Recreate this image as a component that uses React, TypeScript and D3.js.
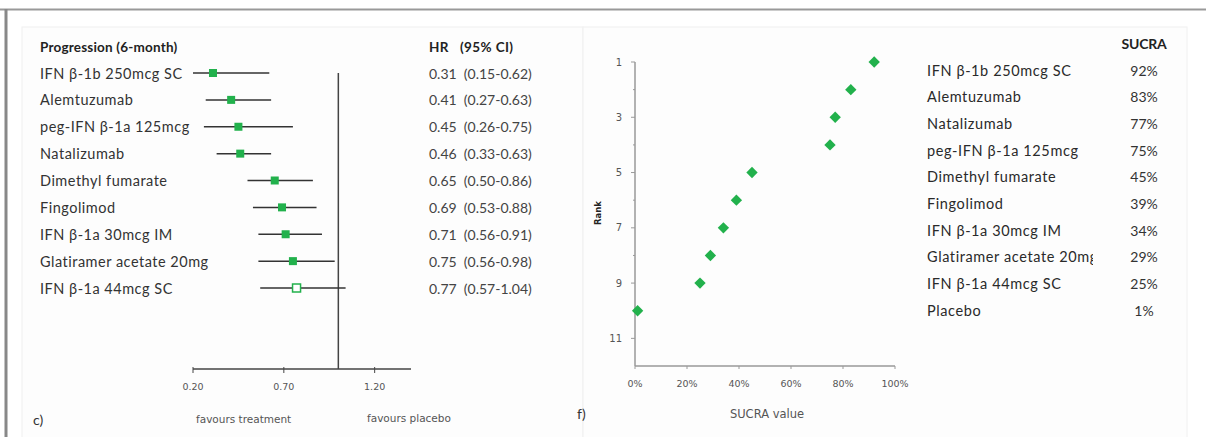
import React from "react";
import * as d3 from "d3";

// forest plot (panel c)
const forestLabels = [
  "IFN β-1b 250mcg SC",
  "Alemtuzumab",
  "peg-IFN β-1a 125mcg",
  "Natalizumab",
  "Dimethyl fumarate",
  "Fingolimod",
  "IFN β-1a 30mcg IM",
  "Glatiramer acetate 20mg",
  "IFN β-1a 44mcg SC",
];
const hr = [0.31, 0.41, 0.45, 0.46, 0.65, 0.69, 0.71, 0.75, 0.77];
const ciLow = [0.15, 0.27, 0.26, 0.33, 0.5, 0.53, 0.56, 0.56, 0.57];
const ciHigh = [0.62, 0.63, 0.75, 0.63, 0.86, 0.88, 0.91, 0.98, 1.04];
const forestTicks = [0.2, 0.7, 1.2];

// SUCRA ranking (panel f)
const sucraNames = [
  "IFN β-1b 250mcg SC",
  "Alemtuzumab",
  "Natalizumab",
  "peg-IFN β-1a 125mcg",
  "Dimethyl fumarate",
  "Fingolimod",
  "IFN β-1a 30mcg IM",
  "Glatiramer acetate 20mg",
  "IFN β-1a 44mcg SC",
  "Placebo",
];
const sucraValues = [0.92, 0.83, 0.77, 0.75, 0.45, 0.39, 0.34, 0.29, 0.25, 0.01];
const rankTicks = [1, 3, 5, 7, 9, 11];
const sucraTicks = [0, 0.2, 0.4, 0.6, 0.8, 1];

const green = "#22b14c";
const labelFont = "Lato, 'Open Sans', sans-serif";
const smallFont = "'DejaVu Sans', Verdana, sans-serif";
const f2 = d3.format(".2f");
const pct = d3.format(".0%");
const pre = { whiteSpace: "pre" as const };

const Forest = () => {
  const x = d3.scaleLinear().domain([0.2, 1.4]).range([193, 411]).clamp(true);
  const y = d3.scalePoint<number>().domain(d3.range(hr.length)).range([73, 288]);
  const axisY = 369;

  return (
    <g>
      <text x={40} y={47} fontFamily={labelFont} fontWeight="bold" fontSize="13.5" fill="#222" dominantBaseline="central" letterSpacing="0.2">
        Progression (6-month)
      </text>
      <text x={429} y={47} fontFamily={labelFont} fontWeight="bold" fontSize="13.5" fill="#222" dominantBaseline="central" style={pre} letterSpacing="0.4">
        {"HR   (95% CI)"}
      </text>

      {/* line of no effect */}
      <line x1={x(1)} x2={x(1)} y1={73} y2={axisY} stroke="#444" strokeWidth={1.5} />

      {hr.map((d, i) => {
        const cy = y(i) as number;
        const open = ciHigh[i] >= 1;
        return (
          <g key={"row" + i}>
            <text x={40} y={cy} fontFamily={labelFont} fontSize="14.5" fill="#333" dominantBaseline="central" letterSpacing="0.5">
              {forestLabels[i]}
            </text>
            <line x1={x(ciLow[i])} x2={x(ciHigh[i])} y1={cy} y2={cy} stroke="#333" strokeWidth={1.5} />
            <rect
              x={x(d) - 4}
              y={cy - 4}
              width={8}
              height={8}
              fill={open ? "#fff" : green}
              stroke={green}
              strokeWidth={open ? 1.5 : 0}
            />
            <text x={429} y={cy} fontFamily={labelFont} fontSize="14" fill="#444" dominantBaseline="central" style={pre}>
              {`${f2(d)}  (${f2(ciLow[i])}-${f2(ciHigh[i])})`}
            </text>
          </g>
        );
      })}

      <line x1={x.range()[0]} x2={x.range()[1]} y1={axisY} y2={axisY} stroke="#444" strokeWidth={1.5} />
      {forestTicks.map((t) => (
        <g key={"ft" + t}>
          <line x1={x(t)} x2={x(t)} y1={axisY - 2} y2={axisY + 4} stroke="#444" />
          <text x={x(t)} y={386} textAnchor="middle" fontFamily={smallFont} fontSize="9.5" fill="#555" dominantBaseline="central">
            {f2(t)}
          </text>
        </g>
      ))}
      <text x={196} y={419} fontFamily={smallFont} fontSize="10.5" fill="#555" dominantBaseline="central">
        favours treatment
      </text>
      <text x={367} y={418} fontFamily={smallFont} fontSize="10.5" fill="#555" dominantBaseline="central">
        favours placebo
      </text>
      <text x={33} y={419} fontFamily={labelFont} fontSize="14" fill="#333" dominantBaseline="central">
        c)
      </text>
    </g>
  );
};

const Sucra = () => {
  const x = d3.scaleLinear().domain([0, 1]).range([635, 895]);
  const y = d3.scaleLinear().domain([1, 12]).range([62, 366]);
  const rows = d3.scalePoint<number>().domain(d3.range(sucraNames.length)).range([70, 310]);
  const axisY = y(12);
  const diamond = d3.symbol(d3.symbolDiamond2, 82)();

  return (
    <g>
      <defs>
        <clipPath id="nameClip">
          <rect x={920} y={0} width={173} height={437} />
        </clipPath>
      </defs>

      {/* axes */}
      <line x1={x(0)} x2={x(0)} y1={y(1)} y2={axisY} stroke="#999" strokeWidth={1.5} />
      <line x1={x(0)} x2={x(1)} y1={axisY} y2={axisY} stroke="#999" strokeWidth={1.5} />
      {d3.range(1, 12).map((r) => (
        <line key={"yt" + r} x1={x(0) - (r % 2 ? 4 : 2)} x2={x(0)} y1={y(r)} y2={y(r)} stroke="#999" />
      ))}
      {rankTicks.map((r) => (
        <text key={"yl" + r} x={x(0) - 13} y={y(r)} textAnchor="end" fontFamily={smallFont} fontSize="10" fill="#555" dominantBaseline="central">
          {r}
        </text>
      ))}
      {sucraTicks.map((t) => (
        <g key={"xt" + t}>
          <line x1={x(t)} x2={x(t)} y1={axisY} y2={axisY + 3} stroke="#999" />
          <text x={x(t)} y={383} textAnchor="middle" fontFamily={smallFont} fontSize="9.5" fill="#555" dominantBaseline="central">
            {pct(t)}
          </text>
        </g>
      ))}
      <text x={767} y={414} textAnchor="middle" fontFamily={smallFont} fontSize="11.5" fill="#555" dominantBaseline="central">
        SUCRA value
      </text>
      <text
        transform={`translate(598, 213) rotate(-90)`}
        textAnchor="middle"
        fontFamily={smallFont}
        fontWeight="bold"
        fontSize="8.5"
        fill="#222"
        dominantBaseline="central"
      >
        Rank
      </text>

      {sucraValues.map((v, i) => (
        <path key={"pt" + i} d={diamond as string} transform={`translate(${x(v)}, ${y(i + 1)})`} fill={green} />
      ))}

      {/* ranking table */}
      <text x={1144} y={43} textAnchor="middle" fontFamily={labelFont} fontWeight="bold" fontSize="14" fill="#222" dominantBaseline="central" letterSpacing="-0.2">
        SUCRA
      </text>
      {sucraNames.map((n, i) => (
        <g key={"tr" + i}>
          <text x={927} y={rows(i)} fontFamily={labelFont} fontSize="14.5" fill="#2a2a2a" dominantBaseline="central" letterSpacing="0.6" clipPath="url(#nameClip)">
            {n}
          </text>
          <text x={1144} y={rows(i)} textAnchor="middle" fontFamily={labelFont} fontSize="14" fill="#333" dominantBaseline="central">
            {pct(sucraValues[i])}
          </text>
        </g>
      ))}
      <text x={577} y={413} fontFamily={labelFont} fontSize="14" fill="#333" dominantBaseline="central">
        f)
      </text>
    </g>
  );
};

export default function App() {
  const width = 1206;
  const height = 437;
  return (
    <svg width={width} height={height} style={{ position: "absolute", left: 0, top: 0, background: "#fff" }}>
      {/* faint panel boxes */}
      <rect x={22} y={27} width={561} height={420} fill="#fdfdfd" stroke="#f0f0f0" />
      <rect x={583} y={27} width={604} height={420} fill="#fdfdfd" stroke="#f0f0f0" />
      {/* outer frame */}
      <line x1={0} x2={width} y1={9.5} y2={9.5} stroke="#999" strokeWidth={2} />
      <line x1={6} x2={6} y1={9} y2={height} stroke="#888" strokeWidth={3} />
      <Forest />
      <Sucra />
    </svg>
  );
}
